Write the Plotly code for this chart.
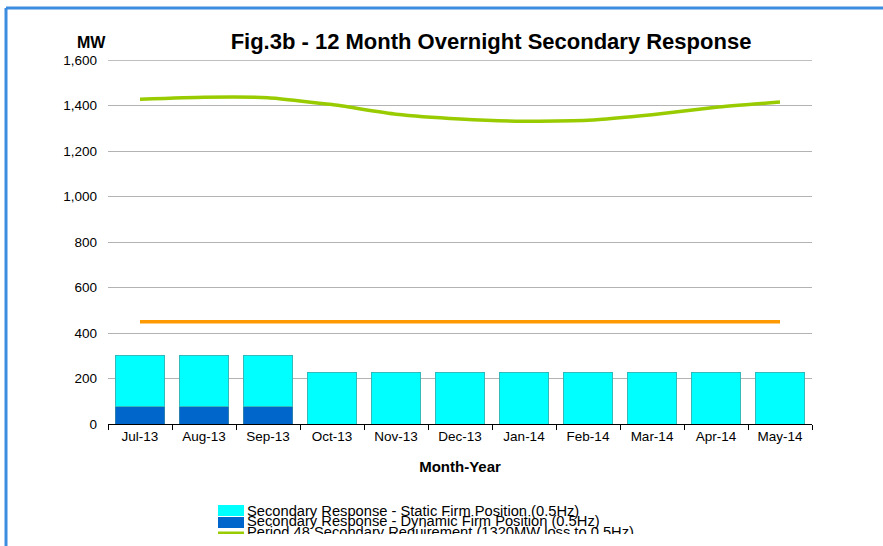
import plotly.graph_objects as go

months = ["Jul-13", "Aug-13", "Sep-13", "Oct-13", "Nov-13", "Dec-13",
          "Jan-14", "Feb-14", "Mar-14", "Apr-14", "May-14"]
static_firm = [225, 225, 225, 225, 225, 225, 225, 225, 225, 225, 225]
dynamic_firm = [75, 75, 75, 0, 0, 0, 0, 0, 0, 0, 0]
period48_req = [1427, 1436, 1434, 1404, 1362, 1341, 1331, 1335, 1359, 1392, 1415]
orange_level = [450, 450, 450, 450, 450, 450, 450, 450, 450, 450, 450]
y_ticks = [0, 200, 400, 600, 800, 1000, 1200, 1400, 1600]

legend_labels = [
    "Secondary Response - Static Firm Position (0.5Hz)",
    "Secondary Response - Dynamic Firm Position (0.5Hz)",
    "Period 48 Secondary Requirement (1320MW loss to 0.5Hz)",
]

W, H = 883, 546
# plot area in page pixels
L, R, T, B = 108, 812, 60, 424
# legend box in page pixels (clipped at its bottom, like the reference)
LG_T, LG_B = 495, 534
FONT = "Liberation Sans, Arial, sans-serif"


def px(x):
    return x / W


def py(y):
    return 1 - y / H


fig = go.Figure()
fig.add_trace(go.Bar(x=months, y=dynamic_firm, name=legend_labels[1],
                     marker=dict(color="#0066CC", line=dict(color="#2a7fb0", width=1))))
fig.add_trace(go.Bar(x=months, y=static_firm, name=legend_labels[0],
                     marker=dict(color="#00FFFF", line=dict(color="#33BBBB", width=1))))
fig.add_trace(go.Scatter(x=months, y=period48_req, mode="lines", name=legend_labels[2],
                         line=dict(color="#99CC00", width=3.5, shape="spline", smoothing=0.45)))
fig.add_trace(go.Scatter(x=months, y=orange_level, mode="lines", name="orange",
                         line=dict(color="#FF9900", width=3.5)))

# legend texts drawn in a small clipped subplot
fig.add_trace(go.Scatter(x=[247, 247, 247], y=[512, 522.5, 533], mode="text",
                         text=legend_labels, textposition="middle right",
                         textfont=dict(family=FONT, size=14.7, color="#000"),
                         cliponaxis=True, hoverinfo="skip", xaxis="x2", yaxis="y2",
                         marker=dict(size=1)))

shapes = [
    # blue frame
    dict(type="line", xref="paper", yref="paper", x0=px(6), x1=px(900), y0=py(8), y1=py(8),
         line=dict(color="#3C8CE0", width=3)),
    dict(type="line", xref="paper", yref="paper", x0=px(6), x1=px(6), y0=py(8), y1=py(560),
         line=dict(color="#3C8CE0", width=3)),
    # top gridline darker
    dict(type="line", xref="x domain", yref="y", x0=0, x1=1, y0=1600, y1=1600,
         line=dict(color="#808080", width=1), layer="below"),
    # legend swatches
    dict(type="rect", xref="x2", yref="y2", x0=218, x1=244, y0=505, y1=516,
         fillcolor="#00FFFF", line=dict(width=0)),
    dict(type="rect", xref="x2", yref="y2", x0=218, x1=244, y0=517, y1=528,
         fillcolor="#0066CC", line=dict(width=0)),
    dict(type="line", xref="x2", yref="y2", x0=218, x1=244, y0=533, y1=533,
         line=dict(color="#99CC00", width=3)),
]

annotations = [
    dict(text="<b>MW</b>", xref="paper", yref="paper", x=px(75), y=py(32),
         showarrow=False, font=dict(family=FONT, size=16, color="#000")),
]

fig.update_layout(
    template="none",
    width=W, height=H,
    margin=dict(l=0, r=0, t=0, b=0, pad=0),
    paper_bgcolor="white", plot_bgcolor="white",
    barmode="stack", bargap=0.22,
    showlegend=False, hovermode=False,
    title=dict(text="<b>Fig.3b - 12 Month Overnight Secondary Response</b>",
               x=px(491), xref="paper", xanchor="center",
               y=1 - 41 / H, yref="container", yanchor="middle",
               font=dict(family=FONT, size=22, color="#000")),
    font=dict(family=FONT, size=13, color="#000"),
    shapes=shapes,
    annotations=annotations,
    xaxis=dict(
        domain=[L / W, R / W], anchor="y", automargin=False,
        showline=True, linecolor="#000", linewidth=1,
        ticks="outside", tickson="boundaries", ticklen=5, tickcolor="#000",
        showgrid=False, zeroline=False,
        tickfont=dict(family=FONT, size=13.5),
        title=dict(text="<b>Month-Year</b>", font=dict(family=FONT, size=15), standoff=18),
    ),
    yaxis=dict(
        domain=[1 - B / H, 1 - T / H], anchor="x", automargin=False,
        range=[0, 1600], tickvals=y_ticks, tickformat=",",
        showgrid=True, gridcolor="#b3b3b3", gridwidth=1,
        showline=False, zeroline=False, ticks="", ticklabelstandoff=10,
        tickfont=dict(family=FONT, size=13.5),
    ),
    xaxis2=dict(domain=[0, 1], range=[0, W], visible=False, anchor="y2",
                fixedrange=True, automargin=False),
    yaxis2=dict(domain=[1 - LG_B / H, 1 - LG_T / H], range=[LG_B, LG_T], visible=False,
                anchor="x2", fixedrange=True, automargin=False),
)

fig.write_html("out.html", config={"displayModeBar": False},
               post_script="document.body.style.margin='0';document.body.style.overflow='hidden';")
